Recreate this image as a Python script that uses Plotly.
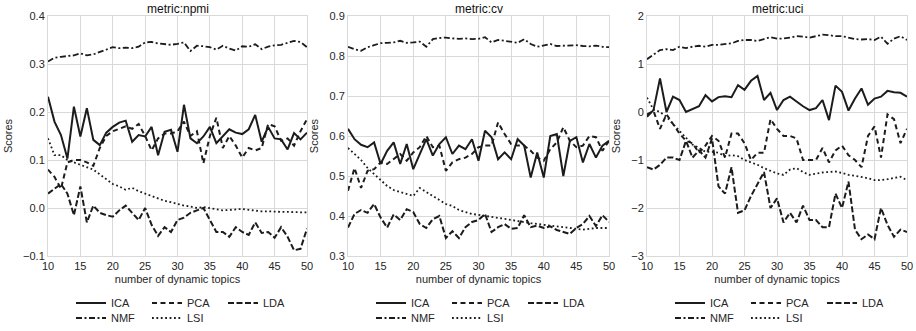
import plotly.graph_objects as go
from plotly.subplots import make_subplots

# number of dynamic topics on the x axis
topics = list(range(10, 51))

# ---- metric: npmi ----
npmi_ica = [0.232, 0.180, 0.152, 0.103, 0.211, 0.149, 0.208, 0.142, 0.131, 0.157,
            0.169, 0.178, 0.182, 0.138, 0.152, 0.149, 0.169, 0.110, 0.159, 0.163,
            0.117, 0.215, 0.145, 0.135, 0.149, 0.169, 0.135, 0.149, 0.164, 0.157,
            0.154, 0.164, 0.194, 0.138, 0.169, 0.145, 0.143, 0.122, 0.156, 0.143,
            0.157]
npmi_pca = [0.080, 0.065, 0.040, 0.095, 0.100, 0.100, 0.095, 0.088, 0.125, 0.150,
            0.160, 0.165, 0.170, 0.165, 0.175, 0.150, 0.120, 0.145, 0.155, 0.155,
            0.160, 0.180, 0.150, 0.160, 0.093, 0.150, 0.188, 0.125, 0.150, 0.130,
            0.105, 0.125, 0.120, 0.125, 0.175, 0.170, 0.140, 0.145, 0.130, 0.160,
            0.185]
npmi_lda = [0.030, 0.040, 0.050, 0.030, -0.015, 0.045, -0.030, 0.005, -0.010, -0.015,
            -0.018, -0.005, 0.005, -0.010, -0.025, 0.000, -0.035, -0.058, -0.040, -0.050,
            -0.025, -0.020, -0.010, -0.005, 0.000, -0.025, -0.050, -0.050, -0.060, -0.040,
            -0.050, -0.056, -0.030, -0.052, -0.050, -0.062, -0.040, -0.060, -0.088, -0.085,
            -0.043]
npmi_nmf = [0.305, 0.313, 0.315, 0.316, 0.318, 0.322, 0.318, 0.320, 0.325, 0.330,
            0.335, 0.333, 0.334, 0.333, 0.336, 0.345, 0.346, 0.343, 0.341, 0.340,
            0.342, 0.345, 0.327, 0.338, 0.337, 0.335, 0.330, 0.338, 0.332, 0.328,
            0.337, 0.336, 0.341, 0.331, 0.336, 0.339, 0.340, 0.344, 0.348, 0.346,
            0.335]
npmi_lsi = [0.145, 0.110, 0.110, 0.100, 0.095, 0.090, 0.085, 0.080, 0.070, 0.060,
            0.050, 0.045, 0.038, 0.042, 0.035, 0.030, 0.025, 0.020, 0.015, 0.012,
            0.008, 0.005, 0.003, 0.000, 0.002, 0.000, -0.002, -0.005, -0.004, -0.003,
            -0.002, -0.004, -0.006, -0.007, -0.007, -0.008, -0.008, -0.008, -0.009, -0.009,
            -0.009]

# ---- metric: cv ----
cv_ica = [0.618, 0.592, 0.578, 0.572, 0.584, 0.530, 0.563, 0.584, 0.530, 0.580,
          0.517, 0.555, 0.592, 0.551, 0.580, 0.597, 0.555, 0.576, 0.567, 0.592,
          0.538, 0.613, 0.597, 0.542, 0.559, 0.542, 0.592, 0.576, 0.496, 0.559,
          0.496, 0.600, 0.605, 0.500, 0.588, 0.597, 0.534, 0.580, 0.546, 0.576,
          0.588]
cv_pca = [0.463, 0.520, 0.470, 0.513, 0.517, 0.534, 0.530, 0.542, 0.555, 0.538,
          0.559, 0.572, 0.600, 0.572, 0.576, 0.513, 0.534, 0.542, 0.546, 0.555,
          0.572, 0.576, 0.576, 0.634, 0.605, 0.580, 0.576, 0.576, 0.563, 0.546,
          0.538, 0.567, 0.584, 0.622, 0.588, 0.572, 0.576, 0.600, 0.597, 0.563,
          0.588]
cv_lda = [0.371, 0.405, 0.415, 0.408, 0.430, 0.396, 0.371, 0.404, 0.390, 0.417,
          0.410, 0.380, 0.370, 0.392, 0.400, 0.345, 0.362, 0.345, 0.372, 0.385,
          0.390, 0.405, 0.360, 0.372, 0.380, 0.368, 0.370, 0.402, 0.372, 0.376,
          0.370, 0.374, 0.365, 0.360, 0.355, 0.370, 0.380, 0.400, 0.375, 0.402,
          0.385]
cv_nmf = [0.823, 0.817, 0.813, 0.822, 0.827, 0.832, 0.833, 0.834, 0.838, 0.833,
          0.834, 0.836, 0.823, 0.842, 0.845, 0.846, 0.844, 0.843, 0.844, 0.842,
          0.843, 0.847, 0.834, 0.840, 0.838, 0.836, 0.833, 0.842, 0.830, 0.823,
          0.827, 0.830, 0.825, 0.826, 0.826, 0.827, 0.825, 0.824, 0.826, 0.823,
          0.822]
cv_lsi = [0.570, 0.555, 0.540, 0.520, 0.505, 0.490, 0.475, 0.465, 0.460, 0.455,
          0.450, 0.470, 0.460, 0.450, 0.440, 0.430, 0.425, 0.415, 0.410, 0.405,
          0.403, 0.400, 0.397, 0.395, 0.393, 0.390, 0.388, 0.385, 0.382, 0.380,
          0.378, 0.376, 0.374, 0.372, 0.370, 0.368, 0.366, 0.368, 0.370, 0.370,
          0.370]

# ---- metric: uci ----
uci_ica = [-0.10, 0.04, 0.70, 0.00, 0.32, 0.25, 0.00, 0.06, 0.12, 0.35,
           0.22, 0.31, 0.33, 0.31, 0.56, 0.46, 0.65, 0.75, 0.25, 0.40,
           0.04, 0.25, 0.32, 0.22, 0.12, 0.04, 0.08, 0.25, -0.17, 0.55,
           0.42, 0.03, 0.28, 0.49, 0.15, 0.28, 0.32, 0.44, 0.41, 0.40,
           0.32]
uci_pca = [-0.05, 0.02, -0.35, -0.05, -0.25, -0.45, -0.60, -0.65, -0.85, -0.70,
           -0.50, -0.60, -0.95, -0.45, -0.45, -0.65, -1.00, -0.85, -0.85, -0.15,
           -0.35, -0.50, -0.50, -0.55, -1.00, -1.00, -1.00, -0.75, -1.05, -0.80,
           -0.70, -0.90, -1.00, -1.15, -0.50, -0.30, -0.95, -0.05, -0.15, -0.65,
           -0.35]
uci_lda = [-1.15, -1.20, -1.10, -0.95, -0.95, -1.00, -0.60, -0.95, -0.80, -0.95,
           -0.55, -1.55, -1.70, -1.15, -2.10, -2.05, -1.75, -1.50, -1.25, -2.00,
           -1.80, -2.30, -2.10, -2.30, -1.95, -2.25, -2.25, -2.40, -2.40, -1.70,
           -2.00, -1.45, -2.45, -2.65, -2.55, -2.65, -2.00, -2.35, -2.60, -2.45,
           -2.50]
uci_nmf = [1.10, 1.19, 1.29, 1.31, 1.29, 1.36, 1.33, 1.36, 1.38, 1.36,
           1.40, 1.40, 1.42, 1.43, 1.48, 1.50, 1.50, 1.48, 1.52, 1.56,
           1.53, 1.53, 1.55, 1.58, 1.57, 1.55, 1.58, 1.61, 1.60, 1.58,
           1.58, 1.55, 1.52, 1.51, 1.52, 1.50, 1.57, 1.42, 1.53, 1.58,
           1.50]
uci_lsi = [0.30, 0.05, 0.00, -0.10, -0.25, -0.40, -0.55, -0.68, -0.75, -0.83,
           -0.83, -0.85, -0.92, -0.90, -0.92, -1.00, -1.05, -1.10, -1.17, -1.22,
           -1.28, -1.31, -1.20, -1.17, -1.25, -1.31, -1.28, -1.26, -1.25, -1.24,
           -1.27, -1.31, -1.33, -1.35, -1.38, -1.42, -1.42, -1.40, -1.37, -1.35,
           -1.42]

metrics = ["npmi", "cv", "uci"]
series = {
    "npmi": {"ICA": npmi_ica, "PCA": npmi_pca, "LDA": npmi_lda, "NMF": npmi_nmf, "LSI": npmi_lsi},
    "cv": {"ICA": cv_ica, "PCA": cv_pca, "LDA": cv_lda, "NMF": cv_nmf, "LSI": cv_lsi},
    "uci": {"ICA": uci_ica, "PCA": uci_pca, "LDA": uci_lda, "NMF": uci_nmf, "LSI": uci_lsi},
}
y_ranges = {"npmi": [-0.1, 0.4], "cv": [0.3, 0.9], "uci": [-3, 2]}
y_dtick = {"npmi": 0.1, "cv": 0.1, "uci": 1}
y_fmt = {"npmi": ".1f", "cv": ".1f", "uci": "d"}
x_ticks = [10, 15, 20, 25, 30, 35, 40, 45, 50]

line_color = "#1c1c1c"
styles = {
    "ICA": dict(dash="solid", width=2.0),
    "PCA": dict(dash="5px,3.5px", width=2.0),
    "LDA": dict(dash="6px,2.5px", width=2.0),
    "NMF": dict(dash="6px,2.5px,2px,2.5px", width=1.8),
    "LSI": dict(dash="1.8px,2.6px", width=1.8),
}
# first legend row: ICA, PCA, LDA; second row: NMF, LSI
row_of = {"ICA": 0, "PCA": 0, "LDA": 0, "NMF": 1, "LSI": 1}

W, H = 916, 331
ml, mr, mt, mb = 48, 9, 16, 75
pw = W - ml - mr
ph = H - mt - mb
domains = [
    [0.0, (307 - ml) / pw],
    [(348 - ml) / pw, (609 - ml) / pw],
    [(647 - ml) / pw, 1.0],
]

fig = make_subplots(rows=1, cols=3, subplot_titles=[f"metric:{m}" for m in metrics])

text_color = "#262626"
grid_color = "#d9d9d9"
font_family = "Liberation Sans, Arial, sans-serif"

legend_layout = {}
for i, m in enumerate(metrics):
    col = i + 1
    for name in ["ICA", "PCA", "LDA", "NMF", "LSI"]:
        leg_id = 2 * i + row_of[name] + 1
        leg_key = "legend" if leg_id == 1 else f"legend{leg_id}"
        fig.add_trace(
            go.Scatter(
                x=topics, y=series[m][name], mode="lines", name=name,
                line=dict(color=line_color, **styles[name]),
                legend=leg_key, showlegend=True,
            ),
            row=1, col=col,
        )
    for r in range(2):
        leg_id = 2 * i + r + 1
        leg_key = "legend" if leg_id == 1 else f"legend{leg_id}"
        legend_layout[leg_key] = dict(
            orientation="h",
            x=domains[i][0] + 23 / pw,
            xanchor="left",
            y=-(303 - (mt + ph)) / ph if r == 0 else -(318 - (mt + ph)) / ph,
            yanchor="middle",
            entrywidth=31, entrywidthmode="pixels",
            itemwidth=30,
            font=dict(size=11, color=text_color, family=font_family),
            bgcolor="rgba(0,0,0,0)",
            borderwidth=0,
            tracegroupgap=0,
            itemclick=False, itemdoubleclick=False,
        )

    axis_common = dict(
        showgrid=True, gridcolor=grid_color, gridwidth=1,
        showline=True, linecolor=grid_color, linewidth=1, mirror=True,
        zeroline=False, ticks="",
        tickfont=dict(size=11, color=text_color, family=font_family),
    )
    fig.update_xaxes(
        range=[10, 50], tickvals=x_ticks, domain=domains[i],
        title=dict(text="number of dynamic topics", standoff=4,
                   font=dict(size=11, color=text_color, family=font_family)),
        row=1, col=col, **axis_common,
    )
    fig.update_yaxes(
        range=y_ranges[m], dtick=y_dtick[m], tick0=0, tickformat=y_fmt[m],
        title=dict(text="Scores", standoff=8,
                   font=dict(size=11, color=text_color, family=font_family)),
        row=1, col=col, **axis_common,
    )

# subplot titles follow the axis domains
for i, ann in enumerate(fig.layout.annotations):
    ann.x = (domains[i][0] + domains[i][1]) / 2
    ann.font = dict(size=12, color="#111111", family=font_family)
    ann.yshift = -2

fig.update_layout(
    width=W, height=H,
    margin=dict(l=ml, r=mr, t=mt, b=mb, autoexpand=False),
    paper_bgcolor="white", plot_bgcolor="white",
    font=dict(family=font_family, size=11, color=text_color),
    **legend_layout,
)

fig.write_html("out.html")
